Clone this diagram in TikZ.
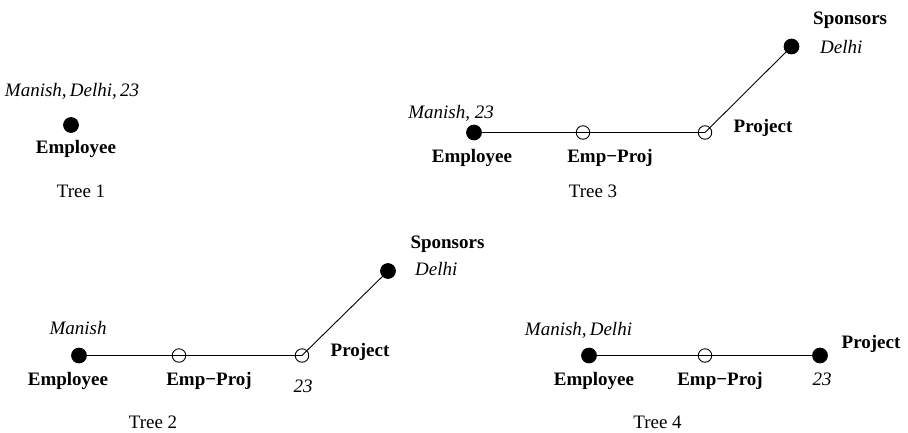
\documentclass[tikz,border=0pt]{standalone}
\usepackage{fontspec}
\setmainfont{Liberation Serif}
\begin{document}
\begin{tikzpicture}[x=1pt,y=-1pt,
  fdot/.style={circle,fill=black,draw=black,line width=0.9pt,minimum size=14.8pt,inner sep=0pt},
  odot/.style={circle,draw=black,line width=0.9pt,minimum size=13.5pt,inner sep=0pt},
  conn/.style={line width=0.9pt},
  lbl/.style={inner sep=0pt,anchor=base,font=\fontsize{19}{22}\selectfont\bfseries},
  val/.style={inner sep=0pt,anchor=base,font=\fontsize{19}{22}\selectfont\itshape},
  treecap/.style={inner sep=0pt,anchor=base,font=\fontsize{19}{22}\selectfont}]
\useasboundingbox (0,0) rectangle (908,432);

% Tree 1
\node[fdot] (E1) at (71,125) {};
\node[val] (E1v) at (72,96) {Manish,\,Delhi,\,23};
\node[lbl] (E1l) at (76,153) {Employee};
\node[treecap] (T1) at (81,197) {Tree 1};

% Tree 3
\coordinate (E3) at (474,132.5);
\coordinate (J3) at (583,132.5);
\coordinate (P3) at (705,132.5);
\coordinate (S3) at (791.5,46.5);
\draw[conn] (E3) -- (J3) -- (P3) -- (S3);
\node[fdot] (E3n) at (E3) {};
\node[odot] (J3n) at (J3) {};
\node[odot] (P3n) at (P3) {};
\node[fdot] (S3n) at (S3) {};
\node[val] (E3v) at (451,118) {Manish, 23};
\node[lbl] (E3l) at (472,162) {Employee};
\node[lbl] (J3l) at (610,162) {Emp−Proj};
\node[lbl] (P3l) at (763,132) {Project};
\node[lbl,anchor=base west] (S3l) at (813,24) {Sponsors};
\node[val,anchor=base west] (S3v) at (820,53) {Delhi};
\node[treecap] (T3) at (593,197) {Tree 3};

% Tree 2
\coordinate (E2) at (79,355.5);
\coordinate (J2) at (179,355.5);
\coordinate (P2) at (302,355.5);
\coordinate (S2) at (388,271);
\draw[conn] (E2) -- (J2) -- (P2) -- (S2);
\node[fdot] (E2n) at (E2) {};
\node[odot] (J2n) at (J2) {};
\node[odot] (P2n) at (P2) {};
\node[fdot] (S2n) at (S2) {};
\node[val] (E2v) at (78,334) {Manish};
\node[lbl] (E2l) at (68,385) {Employee};
\node[lbl] (J2l) at (209,385) {Emp−Proj};
\node[val] (P2v) at (303,392) {23};
\node[lbl] (P2l) at (360,356) {Project};
\node[lbl] (S2l) at (447.5,248) {Sponsors};
\node[val,anchor=base west] (S2v) at (415,275) {Delhi};
\node[treecap] (T2) at (153,428) {Tree 2};

% Tree 4
\coordinate (E4) at (589,355.5);
\coordinate (J4) at (705,355.5);
\coordinate (P4) at (820,355.5);
\draw[conn] (E4) -- (J4) -- (P4);
\node[fdot] (E4n) at (E4) {};
\node[odot] (J4n) at (J4) {};
\node[fdot] (P4n) at (P4) {};
\node[val] (E4v) at (578.5,335) {Manish,\,Delhi};
\node[lbl] (E4l) at (594,385) {Employee};
\node[lbl] (J4l) at (720,385) {Emp−Proj};
\node[val] (P4v) at (822,385) {23};
\node[lbl] (P4l) at (871,348) {Project};
\node[treecap] (T4) at (657.5,428) {Tree 4};
\end{tikzpicture}
\end{document}
